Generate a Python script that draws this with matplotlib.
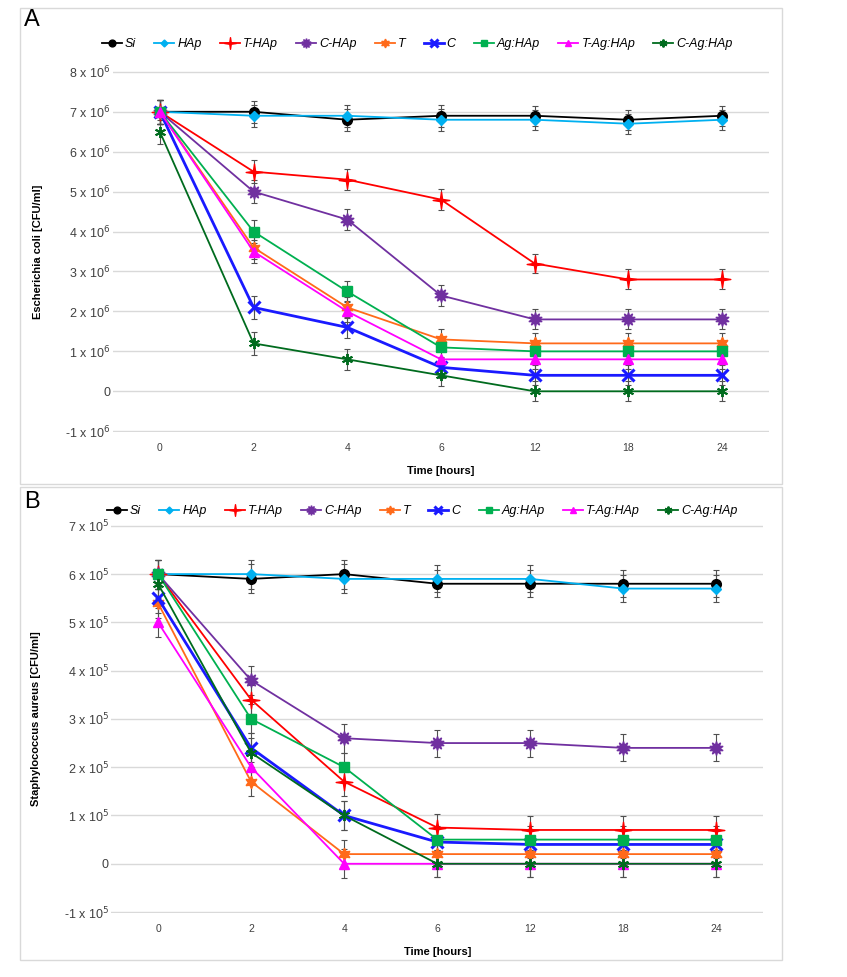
import numpy as np
import matplotlib.pyplot as plt
from matplotlib.patches import Rectangle
from matplotlib.path import Path

# время (часы) - категориальная ось
times = ['0', '2', '4', '6', '12', '18', '24']
names = ['Si', 'HAp', 'T-HAp', 'C-HAp', 'T', 'C', 'Ag:HAp', 'T-Ag:HAp', 'C-Ag:HAp']

# панель A: E. coli, единицы 10^6 CFU/ml
ecoli_si = [7.0, 7.0, 6.8, 6.9, 6.9, 6.8, 6.9]
ecoli_hap = [7.0, 6.9, 6.9, 6.8, 6.8, 6.7, 6.8]
ecoli_thap = [7.0, 5.5, 5.3, 4.8, 3.2, 2.8, 2.8]
ecoli_chap = [7.0, 5.0, 4.3, 2.4, 1.8, 1.8, 1.8]
ecoli_t = [7.0, 3.6, 2.1, 1.3, 1.2, 1.2, 1.2]
ecoli_c = [7.0, 2.1, 1.6, 0.6, 0.4, 0.4, 0.4]
ecoli_aghap = [7.0, 4.0, 2.5, 1.1, 1.0, 1.0, 1.0]
ecoli_tag = [7.0, 3.5, 2.0, 0.8, 0.8, 0.8, 0.8]
ecoli_cag = [6.5, 1.2, 0.8, 0.4, 0.0, 0.0, 0.0]
ecoli_err = [0.3, 0.28, 0.27, 0.27, 0.25, 0.25, 0.25]

# панель B: S. aureus, единицы 10^5 CFU/ml
saur_si = [6.0, 5.9, 6.0, 5.8, 5.8, 5.8, 5.8]
saur_hap = [6.0, 6.0, 5.9, 5.9, 5.9, 5.7, 5.7]
saur_thap = [6.0, 3.4, 1.7, 0.75, 0.7, 0.7, 0.7]
saur_chap = [6.0, 3.8, 2.6, 2.5, 2.5, 2.4, 2.4]
saur_t = [5.4, 1.7, 0.2, 0.2, 0.2, 0.2, 0.2]
saur_c = [5.5, 2.4, 1.0, 0.45, 0.4, 0.4, 0.4]
saur_aghap = [6.0, 3.0, 2.0, 0.5, 0.5, 0.5, 0.5]
saur_tag = [5.0, 2.0, 0.0, 0.0, 0.0, 0.0, 0.0]
saur_cag = [5.8, 2.3, 1.0, 0.0, 0.0, 0.0, 0.0]
saur_err = [0.3, 0.3, 0.3, 0.28, 0.28, 0.28, 0.28]

ecoli = [ecoli_si, ecoli_hap, ecoli_thap, ecoli_chap, ecoli_t, ecoli_c, ecoli_aghap, ecoli_tag, ecoli_cag]
saur = [saur_si, saur_hap, saur_thap, saur_chap, saur_t, saur_c, saur_aghap, saur_tag, saur_cag]

# тонкая четырехлучевая звезда для T-HAp
r = 0.13
spark = Path([(0, 1), (r, r), (1, 0), (r, -r), (0, -1), (-r, -r), (-1, 0), (-r, r), (0, 1)],
             [Path.MOVETO] + [Path.LINETO] * 7 + [Path.CLOSEPOLY])

colors = ['#000000', '#00B0F0', '#FF0000', '#7030A0', '#FF6A1A', '#1A1AFF', '#00B050', '#FF00FF', '#006B1E']
markers = ['o', 'D', spark, (10, 1, 0), (6, 1, 0), 'x', 's', '^', (6, 2, 0)]
msizes = [7, 5, 12, 10, 9, 8, 7, 7, 8]
mews = [1, 1, 1, 1, 1, 2.2, 1, 1, 1.4]
lws = [1.3, 1.3, 1.3, 1.3, 1.3, 2.0, 1.3, 1.3, 1.3]

plt.rcParams['font.family'] = ['Liberation Sans', 'DejaVu Sans']

fig = plt.figure(figsize=(8.47, 9.77), dpi=100)

# рамки панелей
for (x0, y0, x1, y1) in [(20, 8, 782, 484), (20, 487, 782, 960)]:
    fig.patches.append(Rectangle((x0 / 847, 1 - y1 / 977), (x1 - x0) / 847, (y1 - y0) / 977,
                                 transform=fig.transFigure, fill=False, ec='#D9D9D9', lw=1))


def draw_panel(ax, data, err, exp, ylab, ymin, ymax):
    x = np.arange(len(times))
    for i in range(len(names)):
        ax.errorbar(x, data[i], yerr=err, fmt='none', ecolor='#505050', elinewidth=0.8,
                    capsize=2.5, capthick=0.8, zorder=2)
    for i in range(len(names)):
        ax.plot(x, data[i], color=colors[i], lw=lws[i], marker=markers[i], ms=msizes[i],
                mew=mews[i], mec=colors[i], mfc=colors[i], label=names[i], zorder=3)
    ax.set_xlim(-0.5, len(times) - 0.5)
    ax.set_ylim(ymin - 0.02, ymax + 0.02)
    yt = np.arange(ymin, ymax + 1)
    ax.set_yticks(yt)
    ax.set_yticklabels(['0' if v == 0 else '%d x 10$^{%d}$' % (v, exp) for v in yt],
                       fontsize=9, color='#404040')
    ax.set_xticks(x)
    ax.set_xticklabels(times, fontsize=7.5, color='#404040')
    ax.tick_params(axis='y', length=0, pad=2)
    ax.tick_params(axis='x', length=0, pad=8)
    ax.grid(axis='y', color='#D9D9D9', lw=1)
    ax.set_axisbelow(True)
    for s in ax.spines.values():
        s.set_visible(False)
    ax.set_xlabel('Time [hours]', fontsize=8, fontweight='bold', labelpad=9)
    ax.set_ylabel(ylab, fontsize=8, fontweight='bold', labelpad=16)


axA = fig.add_axes([0.1334, 0.5578, 0.7745, 0.3695])
draw_panel(axA, ecoli, ecoli_err, 6, 'Escherichia coli [CFU/ml]', -1, 8)
axA.legend(loc='center', bbox_to_anchor=(0.464, 1.075), ncol=9, frameon=False,
           prop={'style': 'italic', 'size': 9}, handlelength=1.6, columnspacing=1.45,
           handletextpad=0.25, markerscale=0.7)

axB = fig.add_axes([0.1316, 0.0655, 0.7692, 0.3973])
draw_panel(axB, saur, saur_err, 5, 'Staphylococcus aureus [CFU/ml]', -1, 7)
axB.legend(loc='center', bbox_to_anchor=(0.477, 1.035), ncol=9, frameon=False,
           prop={'style': 'italic', 'size': 9}, handlelength=1.6, columnspacing=1.45,
           handletextpad=0.25, markerscale=0.7)

fig.text(32 / 847, 1 - 20 / 977, 'A', fontsize=17, ha='center', va='center')
fig.text(32 / 847, 1 - 502 / 977, 'B', fontsize=17, ha='center', va='center')

fig.savefig('out.png', dpi=100)
